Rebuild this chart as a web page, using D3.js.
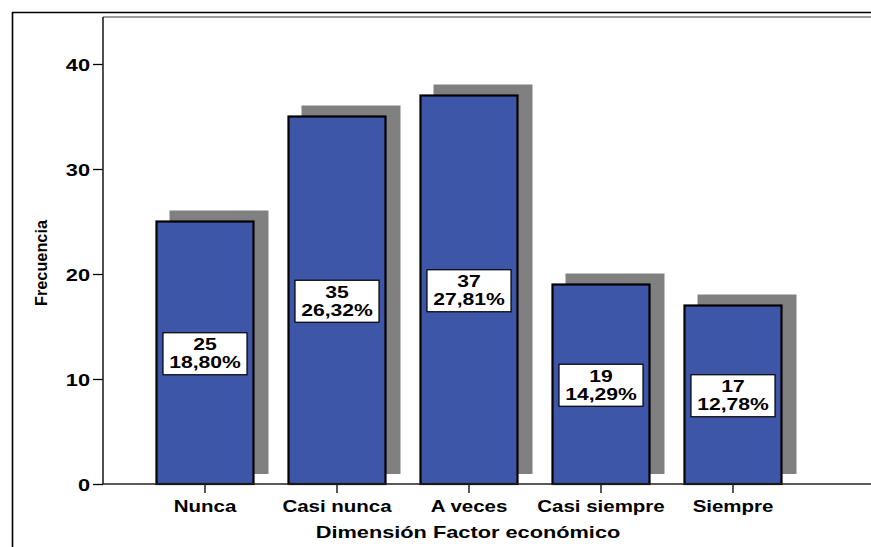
<!DOCTYPE html>
<html>
<head>
<meta charset="utf-8">
<script src="https://cdn.jsdelivr.net/npm/d3@7"></script>
<style>
  html, body { margin: 0; padding: 0; background: #fff; }
  svg { display: block; }
  text { font-family: "Liberation Sans", Arial, sans-serif; font-weight: bold; fill: #000; }
</style>
</head>
<body>
<svg id="chart" width="871" height="547"></svg>
<script>
// Frecuencias por categoría de la dimensión
const categories = ["Nunca", "Casi nunca", "A veces", "Casi siempre", "Siempre"];
const counts = [25, 35, 37, 19, 17];
const percents = [18.80, 26.32, 27.81, 14.29, 12.78];
const yTicks = [0, 10, 20, 30, 40];

const svg = d3.select("#chart");
const W = 871, H = 547;
const SX = 1.28; // horizontal stretch of the lettering

const plot = { left: 103, top: 17, bottom: 484, right: 871 };

const x = d3.scaleBand()
  .domain(categories)
  .range([139, 799])
  .paddingInner(0.25)
  .paddingOuter(0.125);

const y = d3.scaleLinear()
  .domain([0, 40])
  .range([plot.bottom, 64]);

// Outer frame (top and left)
svg.append("line").attr("x1", 12).attr("x2", W).attr("y1", 12.5).attr("y2", 12.5)
  .attr("stroke", "#000").attr("stroke-width", 1.6);
svg.append("line").attr("x1", 12.5).attr("x2", 12.5).attr("y1", 12).attr("y2", H)
  .attr("stroke", "#000").attr("stroke-width", 1.6);

// Plot border top
svg.append("line").attr("x1", plot.left).attr("x2", W).attr("y1", 17).attr("y2", 17)
  .attr("stroke", "#9a9a9a").attr("stroke-width", 2);

// Shadows behind bars
const shDx = 14, shDy = -11;
svg.append("g").selectAll("rect")
  .data(categories)
  .join("rect")
  .attr("x", d => x(d) + shDx)
  .attr("y", (d, i) => y(counts[i]) + shDy)
  .attr("width", x.bandwidth())
  .attr("height", (d, i) => (y(0) - 10) - (y(counts[i]) + shDy))
  .attr("fill", "#808080");

// Bars
svg.append("g").selectAll("rect")
  .data(categories)
  .join("rect")
  .attr("x", d => x(d) + 1)
  .attr("y", (d, i) => y(counts[i]))
  .attr("width", x.bandwidth() - 2)
  .attr("height", (d, i) => y(0) - y(counts[i]))
  .attr("fill", "#3d56a8")
  .attr("stroke", "#000")
  .attr("stroke-width", 2.2);

// Y axis
const yAxis = svg.append("g")
  .attr("transform", `translate(${plot.left},0)`)
  .call(d3.axisLeft(y).tickValues(yTicks).tickSize(10).tickPadding(3).tickSizeOuter(0));
yAxis.select(".domain").remove();
yAxis.selectAll(".tick line").attr("stroke", "#000").attr("stroke-width", 1.3);
yAxis.selectAll(".tick text")
  .style("font-size", "17px")
  .attr("x", -13 / SX)
  .attr("transform", `scale(${SX},1)`)
  .attr("dy", "0.36em");
svg.append("line").attr("x1", plot.left).attr("x2", plot.left).attr("y1", 17).attr("y2", plot.bottom)
  .attr("stroke", "#222").attr("stroke-width", 1.6);

// X axis
const xAxis = svg.append("g")
  .attr("transform", `translate(0,${plot.bottom})`)
  .call(d3.axisBottom(x).tickSize(9).tickPadding(4).tickSizeOuter(0));
xAxis.select(".domain").remove();
xAxis.selectAll(".tick line").attr("stroke", "#000").attr("stroke-width", 1.3);
xAxis.selectAll(".tick text")
  .style("font-size", "16px")
  .attr("transform", `scale(${SX},1)`)
  .attr("dy", "0.95em");
svg.append("line").attr("x1", plot.left).attr("x2", W).attr("y1", plot.bottom).attr("y2", plot.bottom)
  .attr("stroke", "#222").attr("stroke-width", 1.6);

// Value labels: count and percentage in a white box at mid-height of each bar
const fmt = v => d3.format(".2f")(v).replace(".", ",") + "%";
const labels = svg.append("g").selectAll("g")
  .data(categories)
  .join("g")
  .attr("transform", (d, i) => `translate(${x(d) + x.bandwidth() / 2},${(y(counts[i]) + y(0)) / 2})`);
labels.append("rect")
  .attr("x", -42).attr("y", -20).attr("width", 84).attr("height", 42)
  .attr("fill", "#fff").attr("stroke", "#000").attr("stroke-width", 1.2);
labels.append("text")
  .attr("text-anchor", "middle")
  .attr("y", -2.5)
  .attr("transform", `scale(${SX},1)`)
  .style("font-size", "16.5px")
  .text((d, i) => counts[i]);
labels.append("text")
  .attr("text-anchor", "middle")
  .attr("y", 15.5)
  .attr("transform", `scale(${SX},1)`)
  .style("font-size", "16.5px")
  .text((d, i) => fmt(percents[i]));

// Axis titles
svg.append("text")
  .attr("text-anchor", "middle")
  .attr("transform", `translate(468,538) scale(${SX},1)`)
  .style("font-size", "17px")
  .text("Dimensión Factor económico");

svg.append("text")
  .attr("text-anchor", "middle")
  .attr("transform", "translate(46.5,263) rotate(-90)")
  .attr("textLength", 86)
  .attr("lengthAdjust", "spacingAndGlyphs")
  .style("font-size", "16px")
  .text("Frecuencia");
</script>
</body>
</html>
